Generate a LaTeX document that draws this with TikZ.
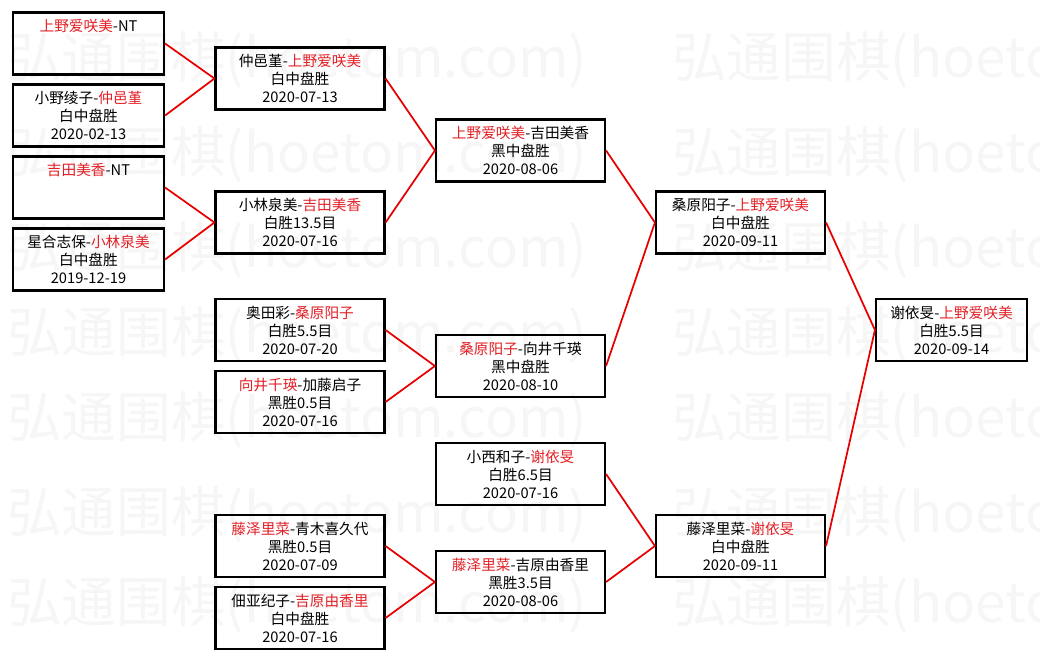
\documentclass[tikz,border=0pt]{standalone}
\usepackage{fontspec}
\newfontfamily\cjk{Noto Sans CJK SC}
\usetikzlibrary{positioning}
\definecolor{winred}{RGB}{226,32,38}
\definecolor{linkred}{RGB}{232,0,0}
\newcommand{\win}[1]{\textcolor{winred}{#1}}
\tikzset{
  wide/.style={draw, line width=1.6pt, minimum width=126.75pt, minimum height=46.5pt,
    inner sep=0pt, align=center, font=\cjk\fontsize{11}{13.5}\selectfont},
  narrow/.style={wide, minimum width=113.25pt},
  link/.style={draw=linkred, line width=1.3pt},
  wmark/.style={anchor=west, inner sep=0pt, text=black!3.5, font=\cjk\fontsize{41}{41}\selectfont}
}

\begin{document}
\begin{tikzpicture}[x=0.75pt,y=-0.75pt,on grid,node distance=54pt]
\useasboundingbox (0,0) rectangle (1040,661);
% watermark
\begin{scope}
\clip (0,0) rectangle (1040,661);
\foreach \y in {60,155,250,335,420,515,605}
  \foreach \x in {7,672}
    \node[wmark] at (\x,\y) {弘通围棋(hoetom.com)};
\end{scope}
% first round
\node[narrow] (b1) at (88.5,43.5) {\win{上野爱咲美}-NT\\\phantom{白}\\\phantom{0}};
\node[narrow, below=of b1] (b2) {小野绫子-\win{仲邑堇}\\白中盘胜\\2020-02-13};
\node[narrow, below=of b2] (b3) {\win{吉田美香}-NT\\\phantom{白}\\\phantom{0}};
\node[narrow, below=of b3] (b4) {星合志保-\win{小林泉美}\\白中盘胜\\2019-12-19};
% second round
\node[wide] (c1) at (300,78.5) {仲邑堇-\win{上野爱咲美}\\白中盘胜\\2020-07-13};
\node[wide] (c2) at (300,222.5) {小林泉美-\win{吉田美香}\\白胜13.5目\\2020-07-16};
\node[wide] (c3) at (300,330) {奥田彩-\win{桑原阳子}\\白胜5.5目\\2020-07-20};
\node[wide, below=of c3] (c4) {\win{向井千瑛}-加藤启子\\黑胜0.5目\\2020-07-16};
\node[wide] (c5) at (300,546) {\win{藤泽里菜}-青木喜久代\\黑胜0.5目\\2020-07-09};
\node[wide, below=of c5] (c6) {佃亚纪子-\win{吉原由香里}\\白中盘胜\\2020-07-16};
% third round
\node[wide] (d1) at (520.5,150.5) {\win{上野爱咲美}-吉田美香\\黑中盘胜\\2020-08-06};
\node[wide] (d2) at (520.5,366) {\win{桑原阳子}-向井千瑛\\黑中盘胜\\2020-08-10};
\node[wide] (d3) at (520.5,474) {小西和子-\win{谢依旻}\\白胜6.5目\\2020-07-16};
\node[wide] (d4) at (520.5,582) {\win{藤泽里菜}-吉原由香里\\黑胜3.5目\\2020-08-06};
% semi-final
\node[wide] (e1) at (740.5,222.5) {桑原阳子-\win{上野爱咲美}\\白中盘胜\\2020-09-11};
\node[wide] (e2) at (740.5,546) {藤泽里菜-\win{谢依旻}\\白中盘胜\\2020-09-11};
% final
\node[narrow] (f1) at (951.5,330) {谢依旻-\win{上野爱咲美}\\白胜5.5目\\2020-09-14};
\path[link]
	(b1.east) edge (c1.west)
	(b2.east) edge (c1.west)
	(b3.east) edge (c2.west)
	(b4.east) edge (c2.west)
	(c1.east) edge (d1.west)
	(c2.east) edge (d1.west)
	(c3.east) edge (d2.west)
	(c4.east) edge (d2.west)
	(c5.east) edge (d4.west)
	(c6.east) edge (d4.west)
	(d1.east) edge (e1.west)
	(d2.east) edge (e1.west)
	(d3.east) edge (e2.west)
	(d4.east) edge (e2.west)
	(e1.east) edge (f1.west)
	(e2.east) edge (f1.west)
; %-path-%
\end{tikzpicture}
\end{document}
